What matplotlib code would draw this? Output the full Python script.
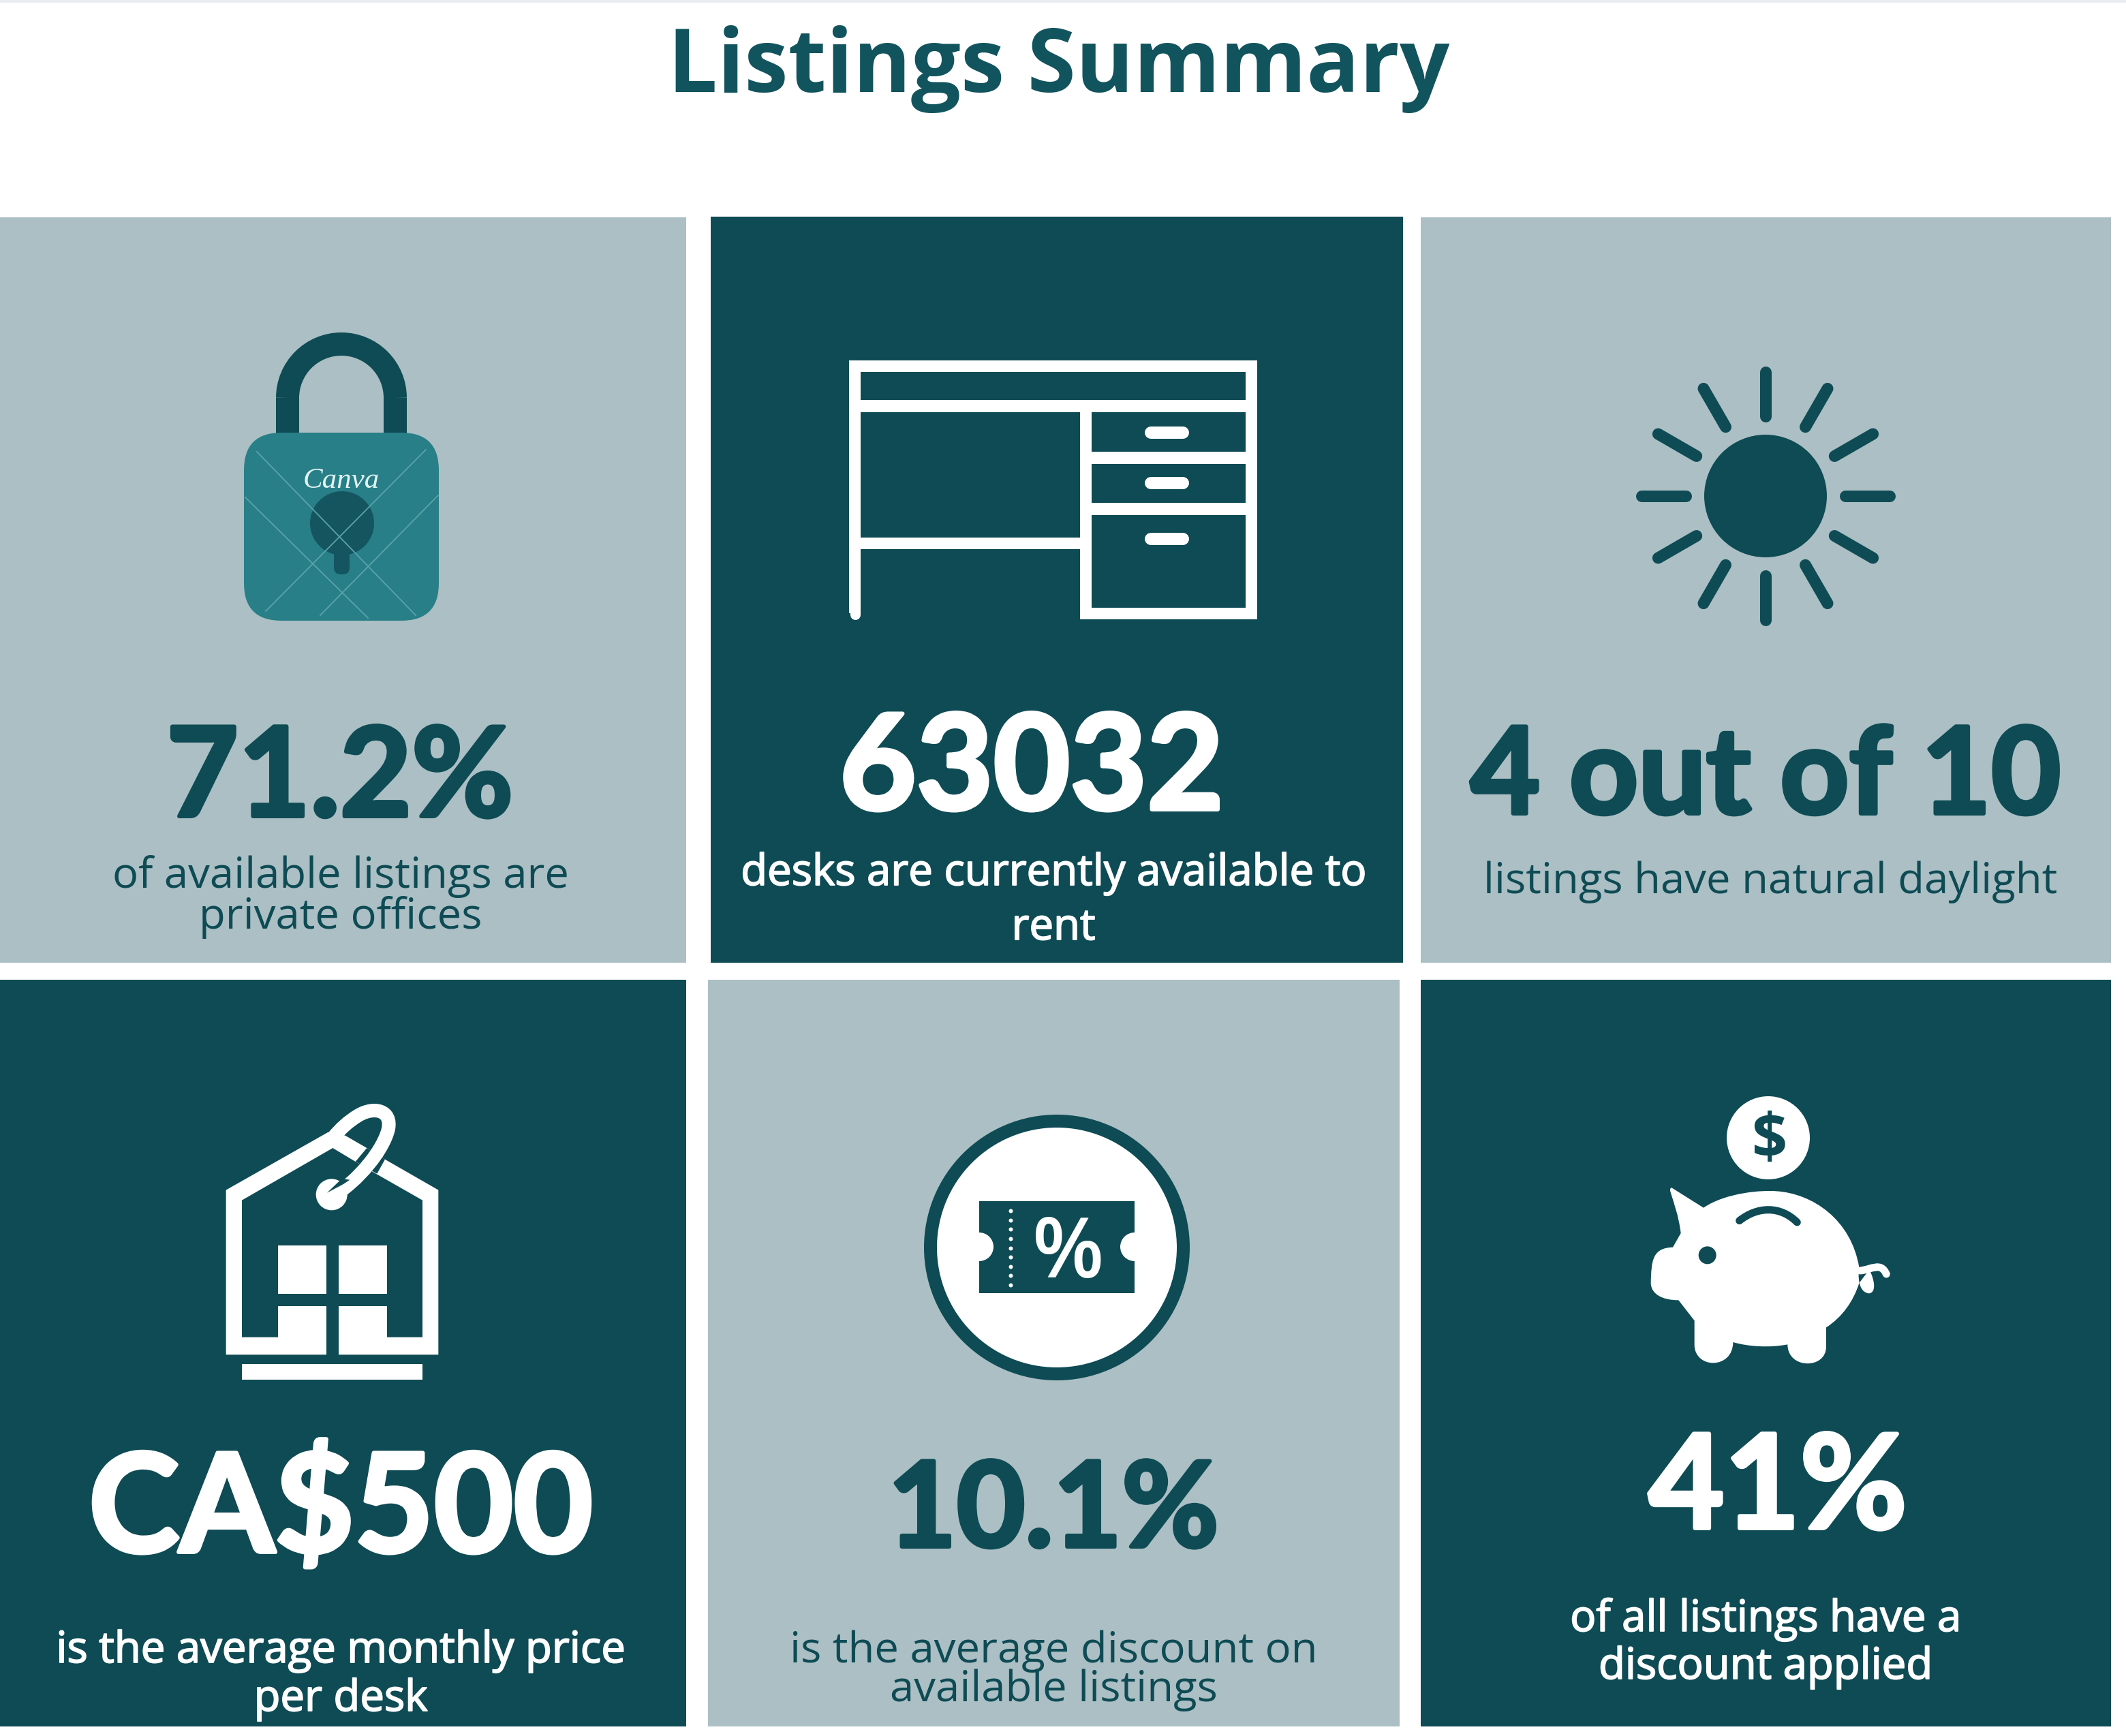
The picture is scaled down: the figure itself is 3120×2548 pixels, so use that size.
#listings summary infographic
import numpy as np
from matplotlib import pyplot as plt
from matplotlib import patheffects
from matplotlib.patches import Rectangle, FancyBboxPatch, Circle, Polygon, PathPatch, Arc
from matplotlib.path import Path

#chart content
title = "Listings Summary"
stats = ["71.2%", "63032", "4 out of 10", "CA$500", "10.1%", "41%"]
captions = [
    ["of available listings are", "private offices"],
    ["desks are currently available to", "rent"],
    ["listings have natural daylight"],
    ["is the average monthly price", "per desk"],
    ["is the average discount on", "available listings"],
    ["of all listings have a", "discount applied"],
]

#colors
DARK = "#0e4b54"
LIGHT = "#abbfc4"
TEAL = "#287f87"
TITLE = "#12545e"
WHITE = "#ffffff"

#layout, all in pixels of the final image
card_box = [(0, 319, 1007, 1413), (1043, 318, 2059, 1413), (2085, 319, 3098, 1413),
            (0, 1438, 1007, 2534), (1039, 1438, 2054, 2534), (2085, 1438, 3098, 2534)]
card_dark = [False, True, False, True, False, True]
stat_pos = [(499, 1198), (1514, 1188), (2591, 1194), (500, 2278), (1546, 2270), (2609, 2243)]
stat_size = [131, 140, 127, 145, 125, 138]
caption_x = [500, 1546, 2598, 500, 1546, 2591]
caption_y = [[1303, 1363], [1299, 1379], [1311], [2440, 2511], [2440, 2497], [2394, 2464]]

fig = plt.figure(figsize=(31.2, 25.48), dpi=100)
ax = fig.add_axes([0, 0, 1, 1])
ax.set_xlim(0, 3120)
ax.set_ylim(2548, 0)
ax.axis("off")

#line width in points from a width in pixels
def pts(px):
    return px * 0.72

def rect(x0, y0, x1, y1, color, z=3):
    ax.add_patch(Rectangle((x0, y0), x1 - x0, y1 - y0, fc=color, ec="none", zorder=z))

#faint line at the very top
rect(0, 0, 3120, 4, "#e9ecf1", 1)

ax.text(1554, 135, title, color=TITLE, fontsize=93, fontweight="bold", family="Open Sans",
        ha="center", va="baseline")

#cards
for box, is_dark in zip(card_box, card_dark):
    rect(box[0], box[1], box[2], box[3], DARK if is_dark else LIGHT, 1)

#big numbers and captions
for i in range(6):
    color = WHITE if card_dark[i] else DARK
    t = ax.text(stat_pos[i][0], stat_pos[i][1], stats[i], color=color, fontsize=stat_size[i],
                family="Lato", fontweight="bold", ha="center", va="baseline", zorder=5)
    #the original numbers are heavier than Lato Bold
    t.set_path_effects([patheffects.withStroke(linewidth=pts(6), foreground=color)])
    for line, y in zip(captions[i], caption_y[i]):
        c = ax.text(caption_x[i], y, line, color=color, fontsize=45.7, family="Open Sans",
                    ha="center", va="baseline", zorder=5)
        if card_dark[i]:
            c.set_path_effects([patheffects.withStroke(linewidth=pts(1.8), foreground=color)])

#lock icon
ax.add_patch(Arc((501, 584), 158, 158, theta1=180, theta2=360, ec=DARK, lw=pts(34), zorder=3))
rect(405, 584, 439, 640, DARK)
rect(563, 584, 597, 640, DARK)
ax.add_patch(FancyBboxPatch((358 + 55, 635 + 55), 286 - 110, 276 - 110, boxstyle="round,pad=55,rounding_size=55",
                            fc=TEAL, ec="none", zorder=4))
ax.add_patch(Circle((502, 768), 47, fc="#14555f", ec="none", zorder=5))
ax.add_patch(FancyBboxPatch((490, 790), 23, 53, boxstyle="round,pad=0,rounding_size=10",
                            fc="#14555f", ec="none", zorder=5))
#watermark lines over the lock
lock_lines = [((377, 663), (610, 903)), ((360, 730), (540, 907)), ((625, 660), (390, 897)),
              ((643, 727), (470, 903))]
for a, b in lock_lines:
    ax.plot([a[0], b[0]], [a[1], b[1]], color="#5ba3a9", lw=1.3, zorder=6)
ax.text(501, 716, "Canva", color="#e3f3f3", fontsize=31, family="Liberation Serif", style="italic",
        ha="center", va="baseline", zorder=7)

#desk icon
for box in [(1246, 529, 1845, 546), (1246, 587, 1845, 605), (1246, 529, 1263, 900), (1828, 529, 1845, 909),
            (1585, 605, 1602, 900), (1602, 663, 1828, 681), (1602, 738, 1828, 756), (1585, 892, 1845, 909),
            (1263, 789, 1585, 806)]:
    rect(box[0], box[1], box[2], box[3], WHITE)
ax.plot([1254.5, 1254.5], [895, 902], color=WHITE, lw=pts(15), solid_capstyle="round", zorder=3)
ax.add_patch(Circle((1595, 899), 10, fc=WHITE, ec="none", zorder=3))
for y in [635, 709, 791]:
    ax.plot([1689, 1736], [y, y], color=WHITE, lw=pts(18), solid_capstyle="round", zorder=3)

#sun icon
sun_x, sun_y = 2591, 728
ax.add_patch(Circle((sun_x, sun_y), 90, fc=DARK, ec="none", zorder=3))
for angle in np.arange(0, 360, 30):
    c, s = np.cos(np.radians(angle)), np.sin(np.radians(angle))
    ax.plot([sun_x + 117 * c, sun_x + 182 * c], [sun_y + 117 * s, sun_y + 182 * s], color=DARK,
            lw=pts(17), solid_capstyle="round", zorder=3)

def house(x, y):
    return (300 + x / 3, 1590 + y / 3)

def house_poly(points, color, z):
    ax.add_patch(Polygon([house(x, y) for x, y in points], closed=True, fc=color, ec="none", zorder=z))

house_poly([(95, 470), (545, 215), (620, 230), (715, 285), (795, 335), (1030, 470), (1030, 1195), (95, 1195)], WHITE, 3)
house_poly([(165, 515), (565, 285), (665, 345), (755, 398), (960, 515), (960, 1118), (165, 1118)], DARK, 4)
house_poly([(715, 285), (665, 345), (760, 398), (795, 335)], DARK, 4)
for box in [(323, 715, 537, 927), (590, 715, 803, 927), (323, 982, 537, 1195), (590, 982, 803, 1195), (165, 1237, 960, 1305)]:
    a, b = house(box[0], box[1]), house(box[2], box[3])
    rect(a[0], a[1], b[0], b[1], WHITE, 5)
a, b = house(537, 1110), house(590, 1205)
rect(a[0], a[1], b[0], b[1], DARK, 4)
ring = [(560, 500), (680, 430), (790, 290), (810, 200), (825, 120), (750, 100), (680, 140), (630, 170), (600, 200), (570, 235)]
ring_codes = [Path.MOVETO] + [Path.CURVE4] * 9
ax.add_patch(PathPatch(Path([house(x, y) for x, y in ring], ring_codes), fc="none", ec=WHITE, lw=pts(20), zorder=6))
ax.add_patch(Circle(house(560, 490), 23, fc=WHITE, ec="none", zorder=6))
house_poly([(540, 482), (605, 420), (640, 425), (610, 445)], DARK, 7)

#discount icon
ax.add_patch(Circle((1551, 1831), 195, fc=DARK, ec="none", zorder=3))
ax.add_patch(Circle((1551, 1831), 176, fc=WHITE, ec="none", zorder=4))
rect(1437, 1763, 1665, 1898, DARK, 5)
ax.add_patch(Circle((1437, 1830), 21, fc=WHITE, ec="none", zorder=6))
ax.add_patch(Circle((1665, 1830), 21, fc=WHITE, ec="none", zorder=6))
ax.plot([1483] * 9, np.linspace(1777, 1886, 9), ls="none", marker="o", ms=pts(6), color=WHITE, mec="none", zorder=6)
ax.text(1568, 1875, "%", color=WHITE, fontsize=88, family="Open Sans", fontweight=600,
        ha="center", va="baseline", zorder=6)

def pig(x, y):
    return (2400 + x / 3, 1590 + y / 3)

ax.add_patch(Circle(pig(585, 240), 61, fc=WHITE, ec="none", zorder=3))
ax.text(pig(588, 240)[0], pig(588, 240)[1] + 30, "$", color=DARK, fontsize=66, family="Open Sans", fontweight="bold",
        ha="center", va="baseline", zorder=4)

#pig outline: start point, then lines (1 point) and curves (3 points)
body = [[(300, 548)],
        [(400, 480), (560, 470), (620, 475)],
        [(780, 485), (950, 600), (985, 810)],
        [(975, 890), (1000, 925), (1030, 925)],
        [(1060, 920), (1055, 870), (1030, 820)],
        [(985, 880)],
        [(960, 960), (910, 1030), (840, 1075)],
        [(840, 1160)],
        [(840, 1260), (670, 1260), (670, 1150)],
        [(590, 1165), (500, 1160), (430, 1140)],
        [(430, 1260), (260, 1260), (260, 1150)],
        [(260, 1045)],
        [(190, 955)],
        [(120, 955), (70, 930), (68, 880)],
        [(70, 780), (75, 725), (165, 722)],
        [(200, 660)],
        [(190, 580), (170, 530), (155, 480)],
        [(150, 465), (155, 460), (160, 460)]]
verts = [pig(160, 460)]
codes = [Path.MOVETO]
for seg in body:
    verts += [pig(x, y) for x, y in seg]
    codes += [Path.LINETO] if len(seg) == 1 else [Path.CURVE4] * 3
ax.add_patch(PathPatch(Path(verts, codes), fc=WHITE, ec="none", zorder=3))
ax.add_patch(Circle(pig(317, 757), 13, fc=DARK, ec="none", zorder=4))
C = Path.CURVE4
slot = [(458, 605), (540, 540), (640, 540), (712, 612)]
ax.add_patch(PathPatch(Path([pig(x, y) for x, y in slot], [Path.MOVETO, C, C, C]), fc="none", ec=DARK,
                       lw=pts(11), capstyle="round", zorder=4))
tail = [(990, 825), (1040, 820), (1080, 785), (1105, 840)]
ax.add_patch(PathPatch(Path([pig(x, y) for x, y in tail], [Path.MOVETO, C, C, C]), fc="none", ec=WHITE,
                       lw=pts(11), capstyle="round", zorder=3))

fig.savefig("out.png", dpi=100, facecolor="white")
